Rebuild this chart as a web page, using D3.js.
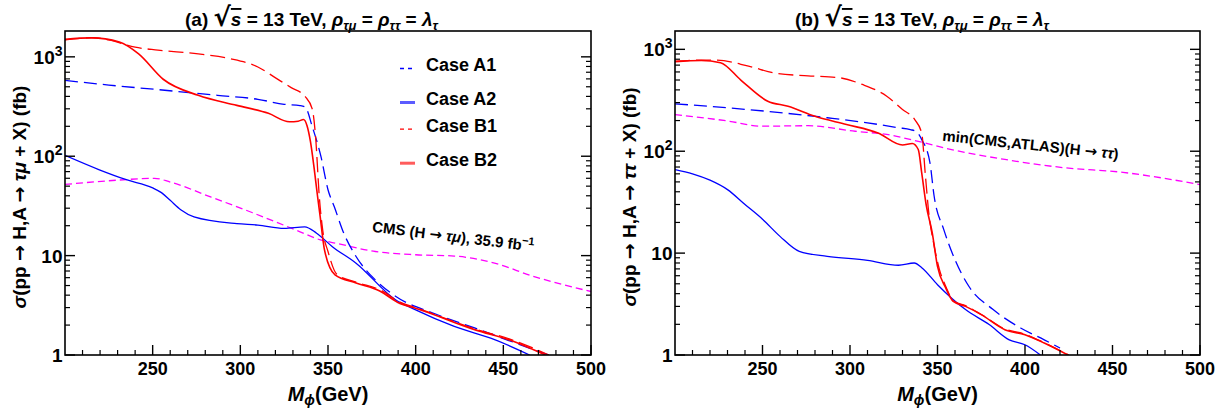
<!DOCTYPE html>
<html><head><meta charset="utf-8">
<script src="https://cdn.jsdelivr.net/npm/d3@7"></script>
<style>
body{margin:0;background:#fff}
svg{display:block}
text{font-family:"Liberation Sans",Arial,sans-serif;font-weight:bold;fill:#000}
.arw{font-family:"DejaVu Sans",sans-serif}
</style>
</head><body><svg id="c" width="1229" height="412"></svg>
<script>
// ---------- data ----------
const xTicks = [250, 300, 350, 400, 450, 500];
const yTicks = [1, 10, 100, 1000];
const yTickLabels = [["1",""], ["10",""], ["10","2"], ["10","3"]];
const legendLabels = ["Case A1", "Case A2", "Case B1", "Case B2"];

// panel (a): sigma(pp -> H,A -> tau mu + X) [fb] vs M_phi [GeV]
const a_A1 = [[200,580],[225,520],[253,468],[287,410],[310,374],[325,333],[334,323],[337,312],[341,199],[346,99],[350,46],[353.6,31],[359,16.8],[366,9.8],[377,5.7],[388.5,3.9],[411,2.6],[433.6,1.87],[451.6,1.43],[470,1.09],[476,1.0]];
const a_A2 = [[200,102],[219.6,73],[235,58],[250,48],[255,43],[260,36],[266,29],[273.6,24.6],[298,21],[310,20.3],[325,18.8],[336.7,19.5],[343.5,16.8],[352.5,12.3],[366,8.4],[388.5,3.6],[400,2.85],[422,1.94],[445,1.43],[465,1.0]];
const a_B1 = [[200,1480],[210,1540],[216,1560],[225,1480],[240,1250],[253,1170],[276,1070],[294,960],[310,790],[321,600],[329,490],[337,397],[341,300],[343,150],[345,40],[347,18],[350,11],[355,6.5],[366,5.4],[380,4.5],[391,3.4],[400,3.0],[433,1.85],[456,1.4],[476,1.0]];
const a_B2 = [[200,1500],[215,1550],[231,1410],[242,1070],[256,595],[276,410],[298,325],[316,270],[328,222],[333,225],[336,234],[338,204],[340,140],[342,78],[344,40],[345.5,25],[348,11.4],[354,6.4],[366,5.3],[379.5,4.4],[391,3.3],[400,2.96],[433.6,1.8],[456,1.37],[474,1.0]];
const a_lim = [[200,52],[231,57.6],[251,60],[260,55],[283,39],[307,27],[332,18],[345.7,14.4],[354.7,13.3],[377,11],[400,10.2],[422,9.9],[445,8.4],[467,6.2],[500,4.35]];

// panel (b): sigma(pp -> H,A -> tau tau + X) [fb] vs M_phi [GeV]
const b_A1 = [[200,292],[253,246],[287,213],[310,190],[327.7,170],[334.5,163],[338,155],[341,130],[345.7,77],[348,37],[353.6,17],[360,8.6],[368,4.7],[381.8,2.79],[397.5,1.84],[411,1.41],[420,1.17]];
const b_A2 = [[200,66],[210,60],[220,52],[230,42],[240,30],[250,21.5],[260,14.6],[271,10.4],[287,9.3],[310,8.5],[327.7,7.6],[336.7,8.0],[341,7.2],[350,4.9],[366,2.79],[379.5,1.99],[391,1.41],[400,1.26],[408.8,1.0]];
const b_B1 = [[200,766],[215,785],[224,783],[242,684],[258,580],[276,550],[294,526],[307,452],[321,347],[330,257],[337,204],[341,150],[343,60],[345,25],[348,12],[351,7],[355,4.6],[359,3.4],[366,3.05],[375,2.5],[388.5,1.8],[400,1.6],[411,1.32],[425,1.0]];
const b_B2 = [[200,755],[215,778],[226,740],[237.6,500],[253,310],[264.6,276],[280,220],[298,183],[316,151],[330,115],[335.6,119],[339,104],[341,61],[343.5,30],[347,15.8],[350,7.4],[354.7,4.55],[359,3.36],[366,3.0],[375,2.49],[388.5,1.77],[400,1.58],[411,1.31],[424.5,1.0]];
const b_lim = [[200,229],[231,197],[249,176],[276,178],[303,157],[321,146],[339,125],[354.7,107],[388.5,83],[422,69],[456,62],[500,47]];

// ---------- drawing ----------
const svg = d3.select("#c");
const styles = {
  A1: {color:"#0000ff", dash:"13,6", w:1.3, leg:{color:"#0000ff", w:1.3, dash:"4,4"}},
  A2: {color:"#0000ff", dash:null, w:1.3, leg:{color:"#5c5cff", w:3, dash:null}},
  B1: {color:"#ff0000", dash:"15,6", w:1.3, leg:{color:"#ff0000", w:1.3, dash:"4,4"}},
  B2: {color:"#ff0000", dash:null, w:1.6, leg:{color:"#ff5c5c", w:3, dash:null}},
  lim:{color:"#ff00ff", dash:"7,4", w:1.3}
};

// append text parts: {t, i(italic), cls, dy, fs}
function parts(el, list){
  list.forEach(p=>{
    const ts = el.append("tspan").text(p.t);
    if (p.i) ts.attr("font-style","italic");
    if (p.cls) ts.attr("class",p.cls);
    if (p.dy) ts.attr("dy",p.dy);
    if (p.fs) ts.attr("font-size",p.fs);
  });
}

function panel(cfg){
  const x = d3.scaleLinear().domain([200,500]).range([cfg.x0, cfg.x1]);
  const y = d3.scaleLog().domain([1, cfg.yMax]).range([355, 31]);
  const g = svg.append("g");
  const cid = "clip" + cfg.id;
  svg.append("clipPath").attr("id", cid).append("rect")
    .attr("x", cfg.x0).attr("y", 31).attr("width", cfg.x1-cfg.x0).attr("height", 324);

  const line = d3.line().x(d=>x(d[0])).y(d=>y(d[1])).curve(d3.curveMonotoneX);
  const lines = g.append("g").attr("clip-path", `url(#${cid})`);
  cfg.series.forEach(s=>{
    const st = styles[s.key];
    lines.append("path").datum(s.data).attr("d", line)
      .attr("fill","none").attr("stroke", st.color).attr("stroke-width", st.w)
      .attr("stroke-dasharray", st.dash);
  });

  // frame
  g.append("rect").attr("x", cfg.x0).attr("y", 31).attr("width", cfg.x1-cfg.x0).attr("height", 324)
    .attr("fill","none").attr("stroke","#000").attr("stroke-width",1.6);

  // x ticks (inward, bottom)
  const xMinor = d3.range(210, 500, 10).filter(v=>v%50!==0);
  g.selectAll(".xmaj").data(xTicks).enter().append("line")
    .attr("x1",d=>x(d)).attr("x2",d=>x(d)).attr("y1",355).attr("y2",345)
    .attr("stroke","#000").attr("stroke-width",1.4);
  g.selectAll(".xmin").data(xMinor).enter().append("line")
    .attr("x1",d=>x(d)).attr("x2",d=>x(d)).attr("y1",355).attr("y2",350)
    .attr("stroke","#000").attr("stroke-width",1.2);
  g.selectAll(".xl").data(xTicks).enter().append("text")
    .attr("x",d=>x(d)).attr("y",375).attr("text-anchor","middle")
    .attr("font-size",18).text(d=>d);

  // y ticks (inward, left and right)
  const yMinor = [];
  [1,10,100,1000].forEach(dec=>{ for(let k=2;k<=9;k++){ const v=dec*k; if(v<cfg.yMax) yMinor.push(v);} });
  [[cfg.x0,1],[cfg.x1,-1]].forEach(([ax,dir])=>{
    g.selectAll(null).data(yTicks).enter().append("line")
      .attr("x1",ax).attr("x2",ax+dir*10).attr("y1",d=>y(d)).attr("y2",d=>y(d))
      .attr("stroke","#000").attr("stroke-width",1.4);
    g.selectAll(null).data(yMinor).enter().append("line")
      .attr("x1",ax).attr("x2",ax+dir*5).attr("y1",d=>y(d)).attr("y2",d=>y(d))
      .attr("stroke","#000").attr("stroke-width",1.2);
  });
  yTicks.forEach((v,i)=>{
    const t = g.append("text").attr("x", cfg.x0-2.5).attr("y", y(v)+7)
      .attr("text-anchor","end").attr("font-size",19);
    t.append("tspan").text(yTickLabels[i][0]);
    if (yTickLabels[i][1]) t.append("tspan").attr("dy",-8).attr("font-size",14).text(yTickLabels[i][1]);
  });

  // title
  const tt = g.append("text").attr("x",cfg.x0+120).attr("y",26).attr("font-size",19);
  tt.append("tspan").text(cfg.tag + "  ");
  tt.append("tspan").attr("class","arw").attr("font-size",26).text("\u221A");
  tt.append("tspan").attr("font-style","italic").style("text-decoration","overline").text("s");
  tt.append("tspan").text("  = 13 TeV, ");
  tt.append("tspan").attr("font-style","italic").text("\u03C1");
  tt.append("tspan").attr("font-style","italic").attr("font-size",13).attr("dy",4).text("\u03C4\u03BC");
  tt.append("tspan").attr("dy",-4).text(" = ");
  tt.append("tspan").attr("font-style","italic").text("\u03C1");
  tt.append("tspan").attr("font-style","italic").attr("font-size",13).attr("dy",4).text("\u03C4\u03C4");
  tt.append("tspan").attr("dy",-4).text(" = ");
  tt.append("tspan").attr("font-style","italic").text("\u03BB");
  tt.append("tspan").attr("font-style","italic").attr("font-size",13).attr("dy",4).text("\u03C4");

  // x label
  const cx = (cfg.x0+cfg.x1)/2;
  const xl = g.append("text").attr("x",cx).attr("y",401).attr("text-anchor","middle").attr("font-size",20);
  xl.append("tspan").attr("font-style","italic").text("M");
  xl.append("tspan").attr("font-style","italic").attr("font-size",14).attr("dy",4).text("\u03D5");
  xl.append("tspan").attr("dy",-4).text("(GeV)");

  // y label
  const yl = g.append("text").attr("transform",`translate(${cfg.x0-39},197) rotate(-90)`)
    .attr("text-anchor","middle").attr("font-size",19);
  parts(yl, [{t:"\u03C3",i:true},{t:"(pp "},{t:"\u2192",cls:"arw"},{t:" H,A "},{t:"\u2192",cls:"arw"},
             {t:" "},{t:cfg.fs,i:true},{t:" + X) (fb)"}]);

  // annotation
  const an = g.append("text")
    .attr("transform",`translate(${x(cfg.ann.x)},${y(cfg.ann.y)}) rotate(${cfg.ann.rot})`)
    .attr("font-size",15);
  parts(an, cfg.ann.parts);
  return {x,y,g};
}

panel({id:"a", tag:"(a)", x0:65, x1:591, yMax:Math.pow(10,3.26), fs:"\u03C4\u03BC",
  series:[{key:"lim",data:a_lim},{key:"A1",data:a_A1},{key:"A2",data:a_A2},{key:"B1",data:a_B1},{key:"B2",data:a_B2}],
  ann:{x:375, y:17.4, rot:7, parts:[{t:"CMS (H "},{t:"\u2192",cls:"arw"},{t:" "},{t:"\u03C4\u03BC",i:true},{t:"), 35.9 fb"},{t:"\u22121",dy:-6,fs:11}]}});

panel({id:"b", tag:"(b)", x0:675, x1:1200, yMax:Math.pow(10,3.18), fs:"\u03C4\u03C4",
  series:[{key:"lim",data:b_lim},{key:"A1",data:b_A1},{key:"A2",data:b_A2},{key:"B1",data:b_B1},{key:"B2",data:b_B2}],
  ann:{x:352.5, y:127, rot:6, parts:[{t:"min(CMS,ATLAS)(H "},{t:"\u2192",cls:"arw"},{t:" "},{t:"\u03C4\u03C4",i:true},{t:")"}]}});

// legend (panel a)
const legKeys = ["A1","A2","B1","B2"];
const legBase = [71, 105, 131.7, 165.7];
const leg = svg.append("g");
legKeys.forEach((k,i)=>{
  const st = styles[k].leg;
  leg.append("line").attr("x1",400).attr("x2",415).attr("y1",legBase[i]-2.5).attr("y2",legBase[i]-2.5)
    .attr("stroke",st.color).attr("stroke-width",st.w)
    .attr("stroke-dasharray", st.dash);
  leg.append("text").attr("x",426).attr("y",legBase[i]).attr("font-size",18).text(legendLabels[i]);
});
</script></body></html>
